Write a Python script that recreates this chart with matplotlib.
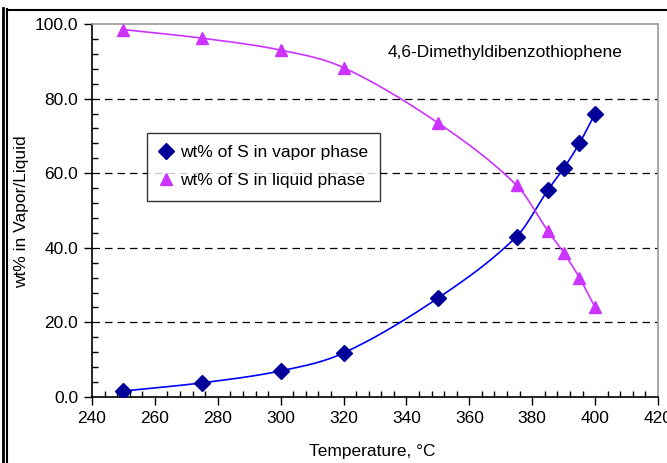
import numpy as np
import matplotlib
matplotlib.use("Agg")
import matplotlib.pyplot as plt
from matplotlib.lines import Line2D
from matplotlib.ticker import MultipleLocator, FormatStrFormatter

plt.rcParams['font.family'] = ['Liberation Sans', 'DejaVu Sans']

temperature = [250, 275, 300, 320, 350, 375, 385, 390, 395, 400]
vapor_wt = [1.6, 3.8, 7.0, 11.8, 26.5, 43.0, 55.5, 61.3, 68.0, 76.0]
liquid_wt = [98.5, 96.2, 93.0, 88.3, 73.5, 56.8, 44.5, 38.7, 32.0, 24.0]

compound = "4,6-Dimethyldibenzothiophene"
vapor_label = "wt% of S in vapor phase"
liquid_label = "wt% of S in liquid phase"

vapor_marker = "#000099"
vapor_line = "#0000FF"
liquid_color = "#CC33FF"

FS = 12.5
W, H = 667, 463
AX_L, AX_R, AX_T, AX_B = 92, 658, 24, 397
fig = plt.figure(figsize=(W / 100, H / 100), dpi=100)
ax = fig.add_axes([AX_L / W, 1 - AX_B / H, (AX_R - AX_L) / W, (AX_B - AX_T) / H])


def px_to_axes(x, y):
    return (x - AX_L) / (AX_R - AX_L), (AX_B - y) / (AX_B - AX_T)


def smooth(xs, ys, per=40):
    # cubic Hermite curve through the points, tangents from neighbouring slopes
    xs = np.asarray(xs, float)
    ys = np.asarray(ys, float)
    n = len(xs)
    m = np.empty(n)
    m[0] = (ys[1] - ys[0]) / (xs[1] - xs[0])
    m[-1] = (ys[-1] - ys[-2]) / (xs[-1] - xs[-2])
    for i in range(1, n - 1):
        m[i] = (ys[i + 1] - ys[i - 1]) / (xs[i + 1] - xs[i - 1])
    outx, outy = [], []
    for i in range(n - 1):
        h = xs[i + 1] - xs[i]
        t = np.linspace(0, 1, per, endpoint=False)
        h00 = 2 * t**3 - 3 * t**2 + 1
        h10 = t**3 - 2 * t**2 + t
        h01 = -2 * t**3 + 3 * t**2
        h11 = t**3 - t**2
        outx.extend(xs[i] + t * h)
        outy.extend(h00 * ys[i] + h10 * h * m[i] + h01 * ys[i + 1] + h11 * h * m[i + 1])
    outx.append(xs[-1])
    outy.append(ys[-1])
    return np.array(outx), np.array(outy)


vx, vy = smooth(temperature, vapor_wt)
lx, ly = smooth(temperature, liquid_wt)
ax.plot(vx, vy, color=vapor_line, lw=1.2, zorder=3)
ax.plot(lx, ly, color=liquid_color, lw=1.2, zorder=3)
ax.plot(temperature, vapor_wt, linestyle="none", marker="D", ms=8.5,
        color=vapor_marker, label=vapor_label, zorder=4)
ax.plot(temperature, liquid_wt, linestyle="none", marker="^", ms=9,
        color=liquid_color, label=liquid_label, zorder=4)

ax.set_xlim(240, 420)
ax.set_ylim(0, 100)
ax.xaxis.set_major_locator(MultipleLocator(20))
ax.xaxis.set_minor_locator(MultipleLocator(4))
ax.yaxis.set_major_locator(MultipleLocator(20))
ax.yaxis.set_minor_locator(MultipleLocator(4))
ax.yaxis.set_major_formatter(FormatStrFormatter("%.1f"))

ax.tick_params(which="major", direction="out", length=6, width=1, labelsize=FS,
               colors="black", pad=4)
ax.tick_params(which="minor", direction="in", length=4, width=1)

for y in (20, 40, 60, 80):
    ax.axhline(y, color="black", lw=0.9, dashes=(6, 4), zorder=1)

ax.spines["left"].set_color("black")
ax.spines["bottom"].set_color("black")
ax.spines["top"].set_color("#999999")
ax.spines["right"].set_color("#999999")
for s in ax.spines.values():
    s.set_linewidth(1.2)

ax.set_xlabel("Temperature, °C", fontsize=FS, va="center", ha="center")
ax.xaxis.set_label_coords(*px_to_axes(372, 451))
ax.set_ylabel("wt% in Vapor/Liquid", fontsize=FS, va="center", ha="center")
ax.yaxis.set_label_coords(*px_to_axes(22, 212))

ax.text(*px_to_axes(622, 52), compound, transform=ax.transAxes,
        ha="right", va="center", fontsize=FS)

leg = ax.legend(loc="upper left", bbox_to_anchor=px_to_axes(147, 133),
                frameon=True, fancybox=False, fontsize=FS, handlelength=0.8,
                handletextpad=0.4, borderpad=0.7, labelspacing=0.75,
                borderaxespad=0)
leg.get_frame().set_edgecolor("black")
leg.get_frame().set_linewidth(1.0)

# outer chart border
fig.add_artist(Line2D([2.5 / W, 2.5 / W], [1 - 8 / H, 0], color="black", lw=2.0))
fig.add_artist(Line2D([6.5 / W, 6.5 / W], [1 - 9 / H, 0], color="black", lw=1.5))
fig.add_artist(Line2D([6.5 / W, 1], [1 - 9.5 / H, 1 - 9.5 / H], color="black", lw=1.5))

fig.savefig("out.png", dpi=100, facecolor="white")
